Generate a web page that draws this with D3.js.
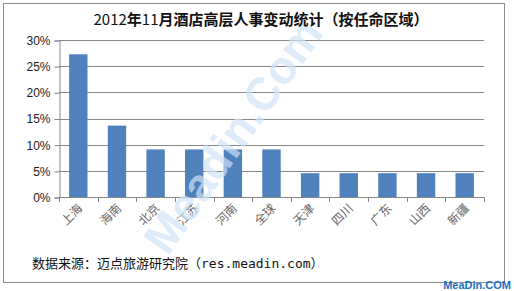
<!DOCTYPE html>
<html>
<head>
<meta charset="utf-8">
<script src="https://cdn.jsdelivr.net/npm/d3@7"></script>
<style>
  body { margin: 0; background: #fff; }
  svg { display: block; }
</style>
</head>
<body>
<div id="chart"></div>
<script>
// Data
const categories = ['上海', '海南', '北京', '江苏', '河南', '全球', '天津', '四川', '广东', '山西', '新疆'];
const shares = [27.27, 13.64, 9.09, 9.09, 9.09, 9.09, 4.55, 4.55, 4.55, 4.55, 4.55];
const yTicks = [0, 5, 10, 15, 20, 25, 30];
// title pieces: [text, bold?]
const titleParts = [['2012', false], ['年', true], ['11', false], ['月酒店高层人事变动统计（按任命区域）', true]];
const source = '数据来源：迈点旅游研究院（res.meadin.com）';

const width = 514, height = 291;
const margin = { top: 40, right: 30, bottom: 94, left: 59 };

const svg = d3.select('#chart').append('svg')
    .attr('width', width)
    .attr('height', height);

// outer frame
svg.append('rect')
    .attr('x', 3.5).attr('y', 3.5)
    .attr('width', 501).attr('height', 279)
    .attr('fill', '#fff')
    .attr('stroke', '#8c8c8c');

// Scales
const x = d3.scaleBand(categories, [margin.left, width - margin.right]).paddingInner(0.5238).paddingOuter(0.2619);
const y = d3.scaleLinear([0, 30], [197, margin.top]);

// gridlines
svg.append('g').selectAll('line').data(yTicks.slice(1))
    .join('line')
    .attr('x1', margin.left).attr('x2', width - margin.right)
    .attr('y1', d => Math.round(y(d)) + 0.5).attr('y2', d => Math.round(y(d)) + 0.5)
    .attr('stroke', '#868686');

// bars
svg.append('g').selectAll('rect').data(categories)
    .join('rect')
    .attr('x', d => x(d))
    .attr('width', x.bandwidth())
    .attr('y', (d, i) => y(shares[i]))
    .attr('height', (d, i) => y(0) - y(shares[i]))
    .attr('fill', '#4f81bd');

// y axis
const yAxis = svg.append('g')
    .attr('transform', `translate(${margin.left + 0.5}, 0.5)`)
    .call(d3.axisLeft(y).tickValues(yTicks).tickSize(5).tickPadding(4).tickFormat(d => d + '%'));
yAxis.select('.domain').attr('stroke', '#868686');
yAxis.selectAll('.tick line').attr('stroke', '#868686');
yAxis.selectAll('text')
    .attr('font-family', 'Liberation Sans, Arial, sans-serif')
    .attr('font-size', 12)
    .attr('fill', '#222');

// x axis line + ticks between categories
const step = x.step();
const xg = svg.append('g');
xg.append('line')
    .attr('x1', margin.left).attr('x2', width - margin.right)
    .attr('y1', y(0) + 0.5).attr('y2', y(0) + 0.5)
    .attr('stroke', '#868686');
xg.selectAll('line.tk').data(d3.range(categories.length + 1))
    .join('line')
    .attr('class', 'tk')
    .attr('x1', i => Math.round(margin.left + i * step) + 0.5)
    .attr('x2', i => Math.round(margin.left + i * step) + 0.5)
    .attr('y1', y(0)).attr('y2', y(0) + 5)
    .attr('stroke', '#868686');
xg.selectAll('text').data(categories)
    .join('text')
    .attr('transform', d => `translate(${x(d) + x.bandwidth() / 2 + 5}, ${y(0) + 12}) rotate(-45)`)
    .attr('text-anchor', 'end')
    .attr('font-family', 'Noto Sans CJK SC, sans-serif')
    .attr('font-size', 12)
    .attr('fill', '#666')
    .text(d => d);

// watermark
svg.append('text')
    .attr('transform', 'translate(236, 138) rotate(-55)')
    .attr('text-anchor', 'middle')
    .attr('dominant-baseline', 'middle')
    .attr('font-family', 'Liberation Sans, Arial, sans-serif')
    .attr('font-weight', 'bold')
    .attr('font-size', 46)
    .attr('fill', '#cfe2f7')
    .attr('fill-opacity', 0.7)
    .text('Meadin.Com');

// title
svg.append('text')
    .attr('x', 261).attr('y', 25)
    .attr('text-anchor', 'middle')
    .attr('font-family', 'Noto Sans CJK SC, sans-serif')
    .attr('font-size', 15)
    .attr('fill', '#111')
    .selectAll('tspan').data(titleParts)
    .join('tspan')
    .attr('font-weight', d => d[1] ? 'bold' : 'normal')
    .text(d => d[0]);

// source note
svg.append('text')
    .attr('x', 32).attr('y', 268)
    .attr('font-family', 'DejaVu Sans Mono, Noto Sans CJK SC, monospace')
    .attr('font-size', 13)
    .attr('fill', '#111')
    .text(source);

// corner logo
svg.append('text')
    .attr('x', 511).attr('y', 289)
    .attr('text-anchor', 'end')
    .attr('font-family', 'Liberation Sans, Arial, sans-serif')
    .attr('font-weight', 'bold')
    .attr('font-size', 11)
    .attr('fill', '#1a6fc4')
    .text('MeaDin.COM');
</script>
</body>
</html>
